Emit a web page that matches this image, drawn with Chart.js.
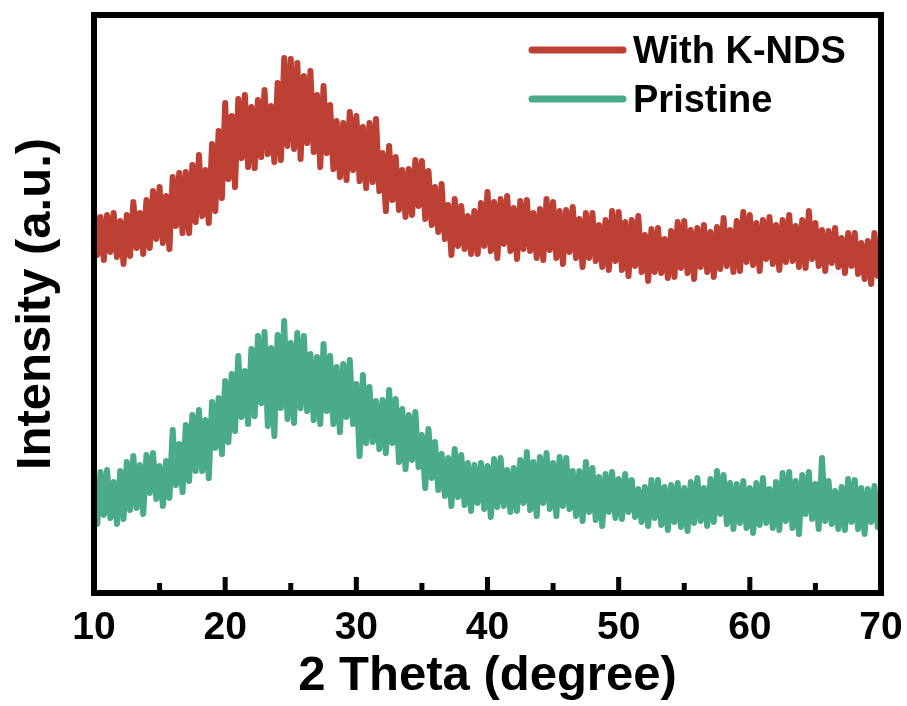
<!DOCTYPE html>
<html>
<head>
<meta charset="utf-8">
<script src="https://cdn.jsdelivr.net/npm/chart.js@4.4.1/dist/chart.umd.min.js"></script>
<style>
  html, body { margin: 0; padding: 0; background: #ffffff; }
  #wrap { width: 907px; height: 706px; }
</style>
</head>
<body>
<div id="wrap"><canvas id="c" width="907" height="706"></canvas></div>
<script>
// 2θ sampling positions (degrees)
const twoTheta = [
10,10.25,10.5,10.75,11,11.25,11.5,11.75,12,12.25,12.5,12.75,13,13.25,13.5,13.75,14,14.25,14.5,14.75,
15,15.25,15.5,15.75,16,16.25,16.5,16.75,17,17.25,17.5,17.75,18,18.25,18.5,18.75,19,19.25,19.5,19.75,
20,20.25,20.5,20.75,21,21.25,21.5,21.75,22,22.25,22.5,22.75,23,23.25,23.5,23.75,24,24.25,24.5,24.75,
25,25.25,25.5,25.75,26,26.25,26.5,26.75,27,27.25,27.5,27.75,28,28.25,28.5,28.75,29,29.25,29.5,29.75,
30,30.25,30.5,30.75,31,31.25,31.5,31.75,32,32.25,32.5,32.75,33,33.25,33.5,33.75,34,34.25,34.5,34.75,
35,35.25,35.5,35.75,36,36.25,36.5,36.75,37,37.25,37.5,37.75,38,38.25,38.5,38.75,39,39.25,39.5,39.75,
40,40.25,40.5,40.75,41,41.25,41.5,41.75,42,42.25,42.5,42.75,43,43.25,43.5,43.75,44,44.25,44.5,44.75,
45,45.25,45.5,45.75,46,46.25,46.5,46.75,47,47.25,47.5,47.75,48,48.25,48.5,48.75,49,49.25,49.5,49.75,
50,50.25,50.5,50.75,51,51.25,51.5,51.75,52,52.25,52.5,52.75,53,53.25,53.5,53.75,54,54.25,54.5,54.75,
55,55.25,55.5,55.75,56,56.25,56.5,56.75,57,57.25,57.5,57.75,58,58.25,58.5,58.75,59,59.25,59.5,59.75,
60,60.25,60.5,60.75,61,61.25,61.5,61.75,62,62.25,62.5,62.75,63,63.25,63.5,63.75,64,64.25,64.5,64.75,
65,65.25,65.5,65.75,66,66.25,66.5,66.75,67,67.25,67.5,67.75,68,68.25,68.5,68.75,69,69.25,69.5,69.75,
70
];

// Intensity, "With K-NDS" (arbitrary units, offset trace)
const withKNDS = [
383,338,376,333, 378,341,380,336, 372,329,378,337, 391,345,380,339, 393,345,402,354,
406,350,397,344, 416,367,420,360, 421,360,428,371, 438,377,423,370, 449,382,462,395,
490,414,477,406, 494,435,498,426, 486,425,493,436, 503,439,487,431, 510,433,535,447,
534,444,530,434, 517,450,522,441, 498,426,507,440, 488,424,472,416, 470,413,481,423,
477,412,466,405, 470,411,474,402, 440,382,447,393, 436,383,423,376, 424,378,433,387,
432,374,422,368, 406,361,409,354, 388,338,394,347, 387,344,377,339, 382,339,390,347,
401,342,391,335, 394,349,397,342, 385,334,392,344, 393,342,380,335, 384,333,394,343,
391,335,382,329, 383,341,386,335, 374,326,380,335, 380,332,368,326, 373,323,382,332,
381,323,371,317, 373,327,377,321, 358,312,364,321, 365,320,354,315, 362,316,371,325,
372,320,363,314, 365,326,368,321, 361,316,366,324, 375,327,363,321, 372,322,381,331,
378,328,370,322, 373,334,376,329, 368,323,373,331, 378,332,367,326, 373,325,382,334,
370,327,363,322, 362,330,365,326, 355,320,360,327, 360,319,350,314, 352,309,360,317,
345
];

// Intensity, "Pristine" (arbitrary units)
const pristine = [
115,69,121,78, 123,75,111,69, 122,74,131,83, 137,85,128,79, 138,100,140,94,
127,87,132,95, 163,108,149,101, 168,112,178,122, 183,122,173,115, 191,145,195,139,
212,151,219,162, 237,176,222,169, 244,177,257,190, 261,167,245,157, 258,185,272,174,
250,170,260,185, 257,182,239,173, 236,169,249,182, 237,169,226,161, 229,176,233,169,
209,137,218,150, 206,151,192,144, 193,140,203,150, 194,131,184,124, 178,133,181,126,
158,105,164,115, 151,103,139,97, 135,87,144,96, 138,88,130,82, 128,90,130,84,
127,76,134,86, 135,87,123,81, 125,82,133,90, 141,83,131,77, 136,90,140,84,
130,77,136,87, 135,84,122,77, 122,72,131,81, 125,73,116,67, 119,81,121,75,
114,74,119,81, 113,76,104,71, 106,67,113,75, 113,68,106,63, 108,71,110,66,
105,62,111,70, 115,72,105,67, 114,71,122,79, 118,69,110,64, 109,70,112,65,
105,60,110,68, 115,70,104,65, 111,63,120,72, 121,65,112,59, 118,79,121,74,
109,64,135,72, 112,69,102,64, 106,63,114,71, 113,64,105,59, 104,71,107,66,
95
];

const seriesLabels = ["With K-NDS", "Pristine"];
const majorTicks = [10, 20, 30, 40, 50, 60, 70];
const minorTicks = [15, 25, 35, 45, 55, 65];
const xTitle = "2 Theta (degree)";
const yTitle = "Intensity (a.u.)";

const RED = "#BC4134";
const GREEN = "#4AAB8A";
const FONT = "'Liberation Sans', Arial, Helvetica, sans-serif";

function toPoints(xs, ys) { return xs.map((x, i) => ({ x: x, y: ys[i] })); }

const framePlugin = {
  id: "frameAndLegend",
  afterDatasetsDraw(chart) {
    const ctx = chart.ctx;
    const a = chart.chartArea;
    const xs = chart.scales.x;
    ctx.save();
    // inward tick marks on the bottom axis
    ctx.strokeStyle = "#000";
    ctx.lineCap = "butt";
    ctx.lineWidth = 5;
    majorTicks.forEach(v => {
      const px = xs.getPixelForValue(v);
      ctx.beginPath(); ctx.moveTo(px, a.bottom); ctx.lineTo(px, a.bottom - 16); ctx.stroke();
    });
    minorTicks.forEach(v => {
      const px = xs.getPixelForValue(v);
      ctx.beginPath(); ctx.moveTo(px, a.bottom); ctx.lineTo(px, a.bottom - 10); ctx.stroke();
    });
    // frame
    ctx.lineWidth = 6;
    ctx.lineJoin = "miter";
    ctx.strokeRect(a.left, a.top, a.right - a.left, a.bottom - a.top);
    // legend
    const lx0 = 532, lx1 = 623, tx = 633;
    const rows = [50, 99];
    chart.data.datasets.forEach((ds, i) => {
      const y = rows[i];
      ctx.strokeStyle = ds.borderColor;
      ctx.lineWidth = 7;
      ctx.lineCap = "round";
      ctx.beginPath(); ctx.moveTo(lx0, y); ctx.lineTo(lx1, y); ctx.stroke();
      ctx.fillStyle = "#000";
      ctx.font = "bold 38px " + FONT;
      ctx.textAlign = "left";
      ctx.textBaseline = "alphabetic";
      ctx.fillText(ds.label, tx, y + 13);
    });
    ctx.restore();
  }
};

new Chart(document.getElementById("c"), {
  type: "line",
  data: {
    datasets: [
      { label: seriesLabels[0], data: toPoints(twoTheta, withKNDS), borderColor: RED, backgroundColor: RED,
        borderWidth: 6, pointRadius: 0, tension: 0, borderJoinStyle: "round", borderCapStyle: "round", fill: false },
      { label: seriesLabels[1], data: toPoints(twoTheta, pristine), borderColor: GREEN, backgroundColor: GREEN,
        borderWidth: 6, pointRadius: 0, tension: 0, borderJoinStyle: "round", borderCapStyle: "round", fill: false }
    ]
  },
  options: {
    responsive: false,
    animation: false,
    devicePixelRatio: 1,
    layout: { padding: { left: 0, right: 26, top: 15, bottom: 0 } },
    plugins: { legend: { display: false }, tooltip: { enabled: false } },
    scales: {
      x: {
        type: "linear", min: 10, max: 70,
        grid: { display: false, drawTicks: true, tickLength: 12 },
        border: { display: false },
        afterBuildTicks(scale) { scale.ticks = majorTicks.map(v => ({ value: v })); },
        ticks: { color: "#000", padding: 4, maxRotation: 0,
                 font: { family: FONT, size: 39, weight: "bold", lineHeight: 1 } },
        title: { display: true, text: xTitle, color: "#000",
                 font: { family: FONT, size: 49, weight: "bold", lineHeight: 1 },
                 padding: { top: 0, bottom: 5 } }
      },
      y: {
        type: "linear", min: 0, max: 578,
        grid: { display: false, drawTicks: false },
        border: { display: false },
        ticks: { display: false },
        title: { display: true, text: yTitle, color: "#000",
                 font: { family: FONT, size: 49, weight: "bold", lineHeight: 1 },
                 padding: { top: 11.5, bottom: 33.5 } }
      }
    }
  },
  plugins: [framePlugin]
});
</script>
</body>
</html>
